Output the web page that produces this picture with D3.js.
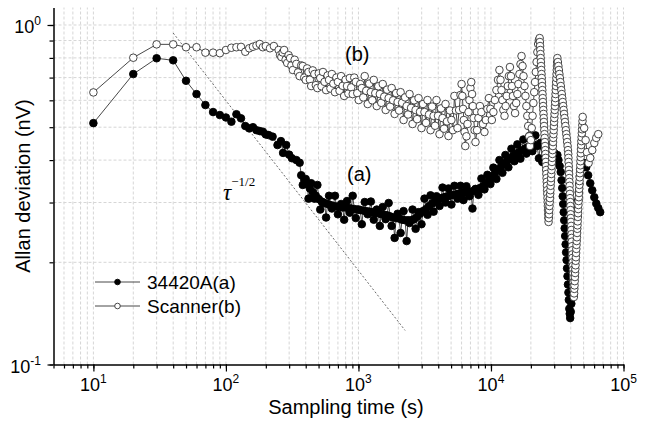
<!DOCTYPE html>
<html>
<head>
<meta charset="utf-8">
<script src="https://cdn.jsdelivr.net/npm/d3@7"></script>
<style>
  body { margin: 0; background: #fff; }
  svg { display: block; font-family: "Liberation Sans", Arial, sans-serif; }
</style>
</head>
<body>
<div id="chart"></div>
<script>
// sampling time (s) and Allan deviation (nV)
const tauA = [10,20,30,40,50,60,70,80,90,100,110,120,130,140,150,160,170,180,190,200,
  210,225,245,260,270,285,300,315,340,
  360,370,380,390,400,410,420,430,440,452, 465,477,490,502,515,527,540,555,570,585,
  600,615,630,647,665,682,700,720,740,760, 780,800,820,840,860,882,905,930,955,980,
  1005,1032,1060,1088,1115,1145,1175,1207,1240,1272, 1305,1340,1375,1412,1450,1487,1525,1565,1605,1647,
  1690,1735,1780,1827,1875,1925,1975,2027,2080,2135, 2190,2250,2310,2370,2430,2495,2560,2630,2700,2770,
  2840,2915,2990,3070,3150,3235,3320,3410,3500,3595, 3690,3785,3880,3985,4090,4200,4310,4425,4540,4660,
  4780,4905,5030,5165,5300,5445,5590,5740,5890,6045, 6200,6365,6530,6705,6880,7065,7250,7445,7640,7840,
  8040,8255,8470,8700,8930,9165,9400,9650,9900,10165, 10430,10710,10990,11285,11580,11890,12200,12525,12850,13190,
  13530,13895,14260,14640,15020,15420,15820,16245,16670,17115, 17560,18030,18500,18995,19490,20010,20530,21080,21630,
  22300,23000,23700,24400,25200,26000,26800,27600,28400,29200,30000,30800,
  31700,32300,33000,33600,34100,34500,34800,35100,35400,35700,36000,36300,36600,36900,37200,37500,37800,38100,38400,38700,39000,39300,39600,
  40000,40400,40800,41200,41600,42000,42400,42800,43200,43600,44000,44400,44800,45200,45600,46000,46400,46800,47400,48200,49000,
  50500,52300,54100,56100,58100,60200,62300,64500,66700];
const devA = [0.514,0.717,0.798,0.787,0.685,0.626,0.581,0.554,0.543,0.534,0.519,0.546,0.531,0.504,0.496,0.500,0.490,0.487,0.485,0.476,
  0.474,0.469,0.443,0.455,0.420,0.443,0.415,0.405,0.400,
  0.393,0.361,0.338,0.350,0.352,0.340,0.308,0.330,0.342,0.322, 0.308,0.314,0.338,0.307,0.286,0.302,0.300,0.299,0.271,0.297,
  0.314,0.295,0.288,0.293,0.314,0.292,0.277,0.291,0.297,0.290, 0.267,0.290,0.303,0.289,0.280,0.288,0.314,0.287,0.270,0.286,
  0.286,0.285,0.259,0.284,0.301,0.283,0.277,0.282,0.302,0.281, 0.267,0.280,0.286,0.279,0.256,0.277,0.291,0.276,0.268,0.275,
  0.299,0.273,0.256,0.271,0.236,0.270,0.278,0.269,0.244,0.267, 0.283,0.266,0.231,0.266,0.261,0.266,0.286,0.268,0.251,0.272,
  0.281,0.278,0.259,0.283,0.308,0.287,0.276,0.293,0.315,0.298, 0.282,0.302,0.313,0.306,0.293,0.309,0.332,0.311,0.300,0.313,
  0.330,0.314,0.296,0.316,0.336,0.317,0.308,0.319,0.336,0.320, 0.305,0.321,0.335,0.322,0.313,0.323,0.288,0.325,0.329,0.327,
  0.316,0.331,0.353,0.335,0.328,0.341,0.362,0.349,0.340,0.358, 0.380,0.366,0.352,0.374,0.400,0.382,0.367,0.390,0.414,0.397,
  0.381,0.404,0.432,0.411,0.397,0.417,0.445,0.422,0.404,0.427, 0.460,0.432,0.418,0.437,0.471,0.441,0.425,0.444,0.473,
  0.440,0.405,0.450,0.395,0.435,0.398,0.440,0.405,0.430,0.392,0.420,0.400,
  0.414,0.400,0.384,0.369,0.349,0.331,0.313,0.297,0.281,0.266,0.252,0.239,0.226,0.214,0.203,0.192,0.182,0.172,0.163,0.155,0.146,0.141,0.137,
  0.143,0.151,0.159,0.168,0.177,0.187,0.198,0.209,0.220,0.232,0.245,0.259,0.274,0.289,0.305,0.322,0.340,0.359,0.374,0.384,0.392,
  0.392,0.381,0.361,0.342,0.326,0.311,0.298,0.289,0.281];

const tauB = [10,20,30,40,50,60,70,80,90,100,110,120,130,140,150,160,170,180,190,200,215,230,
  250,256,262,268,275,282,290,297,305,312, 320,330,340,350,360,370,380,390,400,410,
  420,430,440,452,465,477,490,502,515,527, 540,555,570,585,600,615,630,647,665,682,
  700,720,740,760,780,800,820,840,860,882, 905,930,955,980,1005,1032,1060,1088,1115,1145,
  1175,1207,1240,1272,1305,1340,1375,1412,1450,1487, 1525,1565,1605,1647,1690,1735,1780,1827,1875,1925,
  1975,2027,2080,2135,2190,2250,2310,2370,2430,2495, 2560,2630,2700,2770,2840,2915,2990,3070,3150,3235,
  3320,3410,3500,3595,3690,3785,3880,3985,4090,4200, 4310,4425,4540,4660,4780,4905,5030,5165,5300,5445,
  5590,5750,5890,6000,6080,6160,6240,6320,6400,6530, 6650,6770,6880,7000,7100,7200,7300,7400,7520,7640,
  7850,8040,8250,8470,8700,8930,9150,9400,9650,9900, 10150,10430,10700,10990,11300,11580,11800,12000,12200,12400,
  12650,12900,13150,13400,13650,13900,14150,14400,14650,14900, 15200,15500,15820,16100,16400,16700,17000,17300,17600,17900,
  18200,18500,18800,19100,19400,19700,20000,20300,20600,20900, 21200,21500,21800,22100,22400,22700,23000,
  23300,23385,23470,23555,23640,23725,23810,23895,23980,24065, 24150,24235,24320,24405,24490,24575,24660,24745,24830,24915,
  25000,25085,25170,25255,25340,25425,25510,25595,25680,25765, 25850,25935,26020,26105,26190,26275,26360,26445,26530,26615,
  26700,26785,26870,26955,27040,27120,27200,
  27310,27420,27530,27640,27750,27860,27970,28080,28190,28300, 28410,28520,28630,28740,28850,28960,29070,29180,29290,29400,
  29510,29620,29730,29840,29950,30060,30170,30280,30390,30500, 30610,30720,30830,30940,31050,31160,31270,31380,31480,31580,
  31700,31980,32260,32540,32820,33100,33380,33660,33940,34220, 34500,34780,35060,35340,35620,35900,36180,36460,36740,37020,
  37300,37580,37860,38100,
  38300,38410,38520,38630,38740,38850,38960,39070,39180,39290, 39400,39510,39620,39730,39840,39950,40060,40170,40280,40390,
  40500,40610,40720,40830,40940,41050,41160,41270,41380,41490, 41600,41710,41820,41930,42040,42120,42200,
  42400,42550,42700,42850,43000,43150,43300,43450,43600,43750, 43900,44050,44200,44350,44500,44650,44800,44950,45100,45250,
  45400,45550,45700,45850,46000,46150,46300,46450,46600,46750, 46900,47050,47200,47350,47500,47650,47800,47950,48100,48300,
  48500,48700,48900,49050,49200,
  50500,51800,53000,54500,56100,58100,60200,62300,64500];
const devB = [0.633,0.801,0.877,0.877,0.860,0.860,0.829,0.829,0.826,0.844,0.857,0.860,0.862,0.834,0.854,0.863,0.870,0.879,0.860,0.867,0.854,0.867,
  0.844,0.815,0.805,0.830,0.844,0.790,0.773,0.815,0.799,0.760, 0.737,0.790,0.768,0.725,0.707,0.760,0.757,0.700,0.689,0.745,
  0.727,0.690,0.661,0.735,0.717,0.665,0.652,0.720,0.698,0.660, 0.727,0.680,0.643,0.710,0.689,0.650,0.717,0.672,0.634,0.700,
  0.680,0.640,0.707,0.662,0.618,0.690,0.661,0.628,0.698,0.655, 0.626,0.700,0.680,0.630,0.601,0.670,0.652,0.612,0.707,0.640,
  0.585,0.672,0.634,0.600,0.689,0.630,0.577,0.660,0.626,0.590, 0.670,0.615,0.562,0.645,0.609,0.575,0.652,0.600,0.547,0.630,
  0.593,0.560,0.634,0.590,0.525,0.612,0.577,0.545,0.626,0.570, 0.511,0.600,0.562,0.528,0.609,0.555,0.497,0.585,0.554,0.515,
  0.601,0.545,0.490,0.575,0.540,0.505,0.601,0.540,0.477,0.568, 0.532,0.495,0.585,0.520,0.471,0.560,0.525,0.490,0.618,0.560,
  0.497,0.562,0.622,0.670,0.618,0.566,0.525,0.484,0.440,0.470, 0.511,0.554,0.601,0.652,0.679,0.626,0.577,0.532,0.490,0.452,
  0.490,0.532,0.577,0.554,0.511,0.484,0.525,0.566,0.609,0.566, 0.525,0.554,0.601,0.643,0.689,0.737,0.689,0.643,0.601,0.562,
  0.540,0.577,0.618,0.661,0.707,0.752,0.707,0.661,0.618,0.577, 0.550,0.589,0.626,0.670,0.717,0.767,0.810,0.757,0.707,0.661,
  0.618,0.577,0.540,0.504,0.470,0.440,0.458,0.497,0.540,0.589, 0.634,0.679,0.727,0.778,0.832,0.879,0.903,
  0.915,0.891,0.867,0.844,0.821,0.799,0.778,0.757,0.737,0.717, 0.698,0.679,0.661,0.643,0.626,0.609,0.593,0.577,0.562,0.547,
  0.532,0.518,0.504,0.490,0.477,0.465,0.452,0.440,0.428,0.417, 0.406,0.395,0.384,0.374,0.364,0.354,0.345,0.336,0.326,0.318,
  0.309,0.301,0.293,0.285,0.277,0.270,0.263,
  0.270,0.277,0.285,0.293,0.301,0.309,0.318,0.326,0.336,0.345, 0.354,0.364,0.374,0.384,0.395,0.406,0.417,0.428,0.440,0.452,
  0.465,0.477,0.490,0.504,0.518,0.532,0.547,0.562,0.577,0.593, 0.609,0.626,0.643,0.661,0.679,0.698,0.717,0.737,0.757,0.778,
  0.799,0.778,0.757,0.737,0.717,0.698,0.679,0.661,0.643,0.626, 0.609,0.593,0.577,0.562,0.547,0.532,0.518,0.504,0.490,0.477,
  0.465,0.452,0.440,0.428,
  0.417,0.406,0.395,0.384,0.374,0.364,0.354,0.345,0.336,0.326, 0.318,0.309,0.301,0.293,0.285,0.277,0.270,0.263,0.256,0.249,
  0.242,0.236,0.230,0.223,0.217,0.211,0.206,0.200,0.195,0.190, 0.185,0.180,0.175,0.170,0.166,0.161,0.158,
  0.162,0.167,0.171,0.176,0.181,0.186,0.191,0.196,0.202,0.207, 0.213,0.219,0.225,0.231,0.237,0.244,0.251,0.257,0.264,0.272,
  0.279,0.287,0.295,0.303,0.311,0.320,0.329,0.338,0.347,0.356, 0.366,0.376,0.386,0.397,0.408,0.419,0.431,0.443,0.455,0.467,
  0.480,0.493,0.507,0.521,0.536,
  0.497,0.458,0.422,0.392,0.406,0.428,0.449,0.465,0.477];

// tau^-1/2 guide line end points
const refTau = [40, 2250];
const refDev = [0.947, 0.126];

const xMajor = [10, 100, 1000, 10000, 100000];
const xExp = ["1", "2", "3", "4", "5"];
const yMajor = [0.1, 1];
const yExp = ["-1", "0"];

const seriesNames = ["34420A(a)", "Scanner(b)"];

const width = 648;
const height = 421;

const svg = d3.select("#chart")
    .append("svg")
    .attr("width", width)
    .attr("height", height);

const x = d3.scaleLog().domain([5, 1e5]).range([53.5, 623.5]);
const y = d3.scaleLog().domain([0.1, 1.126]).range([364.5, 7.5]);

const xTicks = x.ticks();
const yTicks = y.ticks();

// grid
svg.append("g").selectAll("line").data(xTicks.filter(d => d > 5)).join("line")
    .attr("x1", d => x(d)).attr("x2", d => x(d))
    .attr("y1", y.range()[0]).attr("y2", y.range()[1])
    .attr("stroke", "#d6d6d6").attr("stroke-width", 1)
    .attr("stroke-dasharray", "3,2");

svg.append("g").selectAll("line").data(yTicks.filter(d => d > 0.1)).join("line")
    .attr("x1", x.range()[0]).attr("x2", x.range()[1])
    .attr("y1", d => y(d)).attr("y2", d => y(d))
    .attr("stroke", "#d6d6d6").attr("stroke-width", 1)
    .attr("stroke-dasharray", "3,2");

// guide line
svg.append("line")
    .attr("x1", x(refTau[0])).attr("y1", y(refDev[0]))
    .attr("x2", x(refTau[1])).attr("y2", y(refDev[1]))
    .attr("stroke", "#444").attr("stroke-width", 0.8)
    .attr("stroke-dasharray", "2,2");

// series
const line = d3.line().x(d => x(d[0])).y(d => y(d[1]));
const ptsA = tauA.map((t, i) => [t, devA[i]]);
const ptsB = tauB.map((t, i) => [t, devB[i]]);

function drawSeries(pts, fill, stroke) {
    svg.append("path").datum(pts)
        .attr("d", line)
        .attr("fill", "none")
        .attr("stroke", "#333")
        .attr("stroke-width", 0.9);
    svg.append("g").selectAll("circle").data(pts).join("circle")
        .attr("cx", d => x(d[0]))
        .attr("cy", d => y(d[1]))
        .attr("r", 3.8)
        .attr("fill", fill)
        .attr("stroke", stroke)
        .attr("stroke-width", 0.9);
}

drawSeries(ptsA, "#000", "#000");
drawSeries(ptsB, "#fff", "#333");

// axes
const xAxisY = y.range()[0];
const yAxisX = x.range()[0];

svg.append("g")
    .attr("transform", "translate(0," + xAxisY + ")")
    .call(d3.axisBottom(x).tickValues(xTicks).tickSize(4).tickSizeOuter(0).tickFormat(""))
    .call(g => g.select(".domain").remove());
svg.append("g")
    .attr("transform", "translate(0," + xAxisY + ")")
    .call(d3.axisBottom(x).tickValues(xMajor).tickSize(7).tickSizeOuter(0).tickFormat(""));

svg.append("g")
    .attr("transform", "translate(" + yAxisX + ",0)")
    .call(d3.axisLeft(y).tickValues(yTicks).tickSize(4).tickSizeOuter(0).tickFormat(""))
    .call(g => g.select(".domain").remove());
svg.append("g")
    .attr("transform", "translate(" + yAxisX + ",0)")
    .call(d3.axisLeft(y).tickValues(yMajor).tickSize(6).tickSizeOuter(0).tickFormat(""));

svg.selectAll(".domain").attr("stroke", "#000").attr("stroke-width", 1.5);
svg.selectAll(".tick line").attr("stroke", "#000").attr("stroke-width", 1.2);

// tick labels with powers of ten
svg.append("g").selectAll("text").data(xMajor).join("text")
    .attr("x", d => x(d))
    .attr("y", 391)
    .attr("text-anchor", "middle")
    .attr("font-size", 18)
    .each(function(d, i) {
        const t = d3.select(this);
        t.append("tspan").text("10");
        t.append("tspan").attr("dy", -8).attr("font-size", 12).text(xExp[i]);
    });

svg.append("g").selectAll("text").data(yMajor).join("text")
    .attr("x", 41)
    .attr("y", d => y(d) + 8.5)
    .attr("text-anchor", "end")
    .attr("font-size", 18)
    .each(function(d, i) {
        const t = d3.select(this);
        t.append("tspan").text("10");
        t.append("tspan").attr("dy", -8).attr("font-size", 12).text(yExp[i]);
    });

// axis titles
svg.append("text")
    .attr("x", 346).attr("y", 414)
    .attr("text-anchor", "middle")
    .attr("font-size", 20)
    .text("Sampling time (s)");

svg.append("text")
    .attr("transform", "translate(30,186) rotate(-90)")
    .attr("text-anchor", "middle")
    .attr("font-size", 20)
    .text("Allan deviation (nV)");

// annotations
svg.append("text").attr("x", 345).attr("y", 61).attr("font-size", 20).text("(b)");
svg.append("text").attr("x", 347).attr("y", 181).attr("font-size", 20).text("(a)");

const tauText = svg.append("text")
    .attr("x", 223).attr("y", 200)
    .attr("font-family", "'Liberation Serif', 'DejaVu Serif', serif");
tauText.append("tspan").attr("font-size", 23).attr("font-style", "italic").text("τ");
tauText.append("tspan").attr("dy", -14).attr("font-size", 13).text("−1/2");

// legend
const legendRows = [
    {name: seriesNames[0], fill: "#000", stroke: "#000", yy: 282},
    {name: seriesNames[1], fill: "#fff", stroke: "#333", yy: 306}
];
const legend = svg.append("g");
legend.selectAll("line").data(legendRows).join("line")
    .attr("x1", 95).attr("x2", 140)
    .attr("y1", d => d.yy).attr("y2", d => d.yy)
    .attr("stroke", "#333").attr("stroke-width", 0.9);
legend.selectAll("circle").data(legendRows).join("circle")
    .attr("cx", 117.5).attr("cy", d => d.yy).attr("r", 2.8)
    .attr("fill", d => d.fill).attr("stroke", d => d.stroke).attr("stroke-width", 0.9);
legend.selectAll("text").data(legendRows).join("text")
    .attr("x", 147).attr("y", d => d.yy + 7)
    .attr("font-size", 19)
    .text(d => d.name);
</script>
</body>
</html>
